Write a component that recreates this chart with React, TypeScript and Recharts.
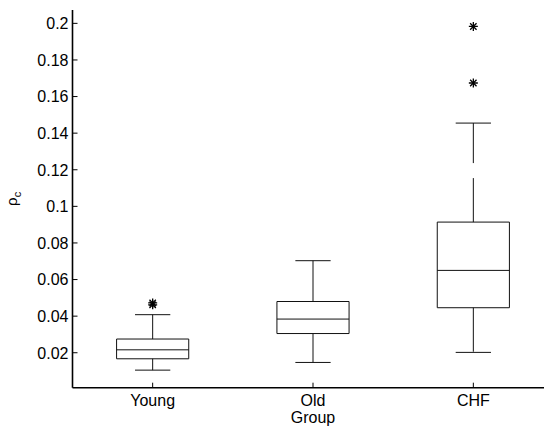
import React from 'react';
import { ComposedChart, XAxis, YAxis, Scatter, ReferenceArea, ReferenceLine } from 'recharts';

const groups = ['Young', 'Old', 'CHF'];
const lowerWhisker = [0.0105, 0.0147, 0.0202];
const q1 = [0.0167, 0.0305, 0.0446];
const median = [0.0216, 0.0384, 0.065];
const q3 = [0.0275, 0.048, 0.0914];
const upperWhisker = [0.0408, 0.0703, 0.1455];
const outlierGroup = [1, 1, 3, 3];
const outlierValue = [0.0472, 0.0462, 0.1983, 0.1674];
const yTicks = [0.02, 0.04, 0.06, 0.08, 0.1, 0.12, 0.14, 0.16, 0.18, 0.2];
const xTicks = [1, 2, 3];
const yDomain = [0.0009, 0.2073];
const xDomain = [0.5, 3.5];

const BOX_HALF = 0.225;
const CAP_HALF = 0.11;
const FONT = '"Liberation Sans", Arial, Helvetica, sans-serif';
const LINE = '#111';

const outliers = outlierGroup.map((g, i) => ({ x: g, y: outlierValue[i] }));

const fmtY = (v: number) => String(+v.toFixed(2));

const YTick = (props: any) => {
  const { x, y, payload } = props;
  return (
    <g>
      <line x1={x} x2={x + 5} y1={y} y2={y} stroke="#000" strokeWidth={1} />
      <text x={x - 4} y={y} dy="0.36em" textAnchor="end" fontSize={16} fontFamily={FONT} fill="#000">
        {fmtY(payload.value)}
      </text>
    </g>
  );
};

const XTick = (props: any) => {
  const { x, y, payload } = props;
  return (
    <g>
      <line x1={x} x2={x} y1={y} y2={y - 5} stroke="#000" strokeWidth={1} />
      <text x={x} y={y + 18.3} textAnchor="middle" fontSize={16} fontFamily={FONT} fill="#000">
        {groups[payload.value - 1]}
      </text>
    </g>
  );
};

const TopTick = (props: any) => {
  const { x, y } = props;
  return <line x1={x} x2={x} y1={y} y2={y + 5} stroke="#000" strokeWidth={1} />;
};

const Star = (props: any) => {
  const { cx, cy } = props;
  if (cx == null || cy == null) return null;
  const r = 4.5;
  const d = 3.2;
  return (
    <g stroke="#000" strokeWidth={1.3}>
      <line x1={cx - r} x2={cx + r} y1={cy} y2={cy} />
      <line x1={cx} x2={cx} y1={cy - r} y2={cy + r} />
      <line x1={cx - d} x2={cx + d} y1={cy - d} y2={cy + d} />
      <line x1={cx - d} x2={cx + d} y1={cy + d} y2={cy - d} />
    </g>
  );
};

const XLabel = (props: any) => {
  const vb = props.viewBox || {};
  return (
    <text x={vb.x + vb.width / 2} y={vb.y + 35.5} textAnchor="middle" fontSize={16} fontFamily={FONT} fill="#000">
      Group
    </text>
  );
};

const YLabel = (props: any) => {
  const vb = props.viewBox || {};
  const cx = 17;
  const cy = vb.y + vb.height / 2;
  return (
    <text
      x={cx}
      y={cy}
      transform={`rotate(-90, ${cx}, ${cy})`}
      textAnchor="middle"
      fontSize={15}
      fontFamily={FONT}
      fill="#000"
    >
      ρ<tspan fontSize={11} dy={4}>c</tspan>
    </text>
  );
};

export default function App() {
  return (
    <div style={{ position: 'fixed', left: 0, top: 0, width: 544, height: 428, overflow: 'hidden', background: '#fff' }}>
      <ComposedChart width={570} height={428} data={outliers} margin={{ top: 10, right: 16.5, bottom: 0, left: 0 }}>
        <XAxis
          dataKey="x"
          type="number"
          domain={xDomain}
          ticks={xTicks}
          allowDataOverflow
          height={40.3}
          tickSize={0}
          tickMargin={0}
          tickLine={false}
          tick={<XTick />}
          axisLine={{ stroke: '#000', strokeWidth: 1.6 }}
          label={<XLabel />}
        />
        <XAxis
          xAxisId="top"
          orientation="top"
          type="number"
          domain={xDomain}
          ticks={xTicks}
          allowDataOverflow
          height={0}
          tickSize={0}
          tickMargin={0}
          tickLine={false}
          tick={<TopTick />}
          axisLine={{ stroke: '#000', strokeWidth: 1.6 }}
        />
        <YAxis
          dataKey="y"
          type="number"
          domain={yDomain}
          ticks={yTicks}
          allowDataOverflow
          width={72.5}
          tickSize={0}
          tickMargin={0}
          tickLine={false}
          tick={<YTick />}
          axisLine={{ stroke: '#000', strokeWidth: 1.6 }}
          label={<YLabel />}
        />
        {groups.map((g, i) => {
          const c = i + 1;
          return (
            <React.Fragment key={g}>
              <ReferenceLine
                segment={[{ x: c, y: q3[i] }, { x: c, y: upperWhisker[i] }]}
                stroke={LINE}
                strokeWidth={1}
                strokeDasharray="44 15"
              />
              <ReferenceLine
                segment={[{ x: c, y: q1[i] }, { x: c, y: lowerWhisker[i] }]}
                stroke={LINE}
                strokeWidth={1}
                strokeDasharray="44 15"
              />
              <ReferenceLine
                segment={[{ x: c - CAP_HALF, y: upperWhisker[i] }, { x: c + CAP_HALF, y: upperWhisker[i] }]}
                stroke={LINE}
                strokeWidth={1}
              />
              <ReferenceLine
                segment={[{ x: c - CAP_HALF, y: lowerWhisker[i] }, { x: c + CAP_HALF, y: lowerWhisker[i] }]}
                stroke={LINE}
                strokeWidth={1}
              />
              <ReferenceArea
                x1={c - BOX_HALF}
                x2={c + BOX_HALF}
                y1={q1[i]}
                y2={q3[i]}
                fill="none"
                fillOpacity={0}
                stroke={LINE}
                strokeWidth={1}
              />
              <ReferenceLine
                segment={[{ x: c - BOX_HALF, y: median[i] }, { x: c + BOX_HALF, y: median[i] }]}
                stroke={LINE}
                strokeWidth={1}
              />
            </React.Fragment>
          );
        })}
        <Scatter dataKey="y" data={outliers} shape={<Star />} isAnimationActive={false} />
      </ComposedChart>
    </div>
  );
}
